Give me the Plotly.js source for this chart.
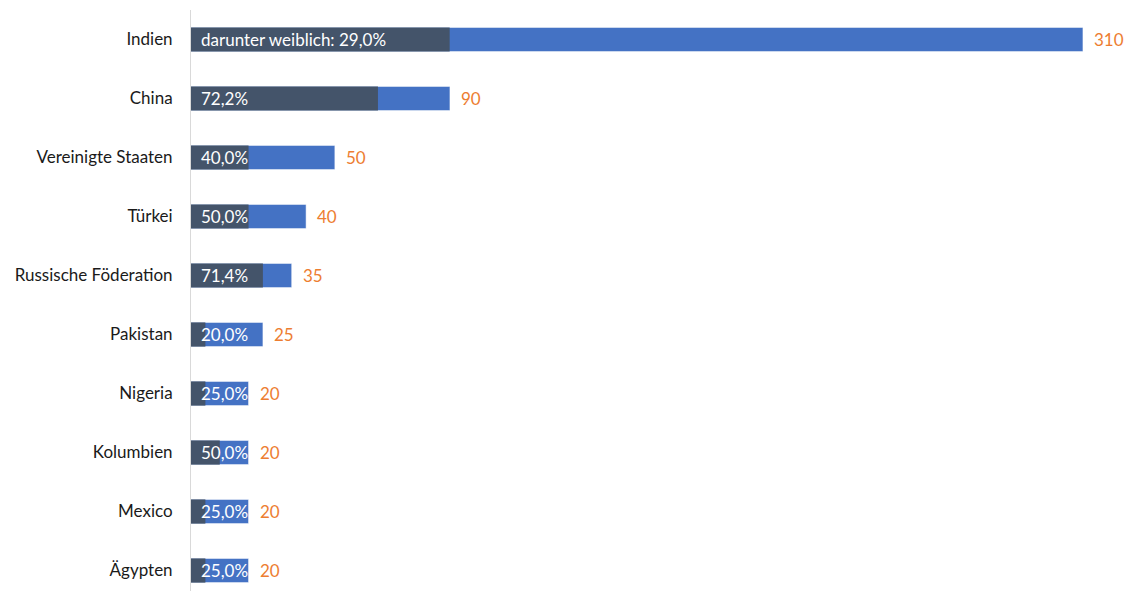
<!DOCTYPE html>
<html><head><meta charset="utf-8">
<script src="https://cdn.plot.ly/plotly-3.0.1.min.js"></script>
<style>html,body{margin:0;padding:0;background:#fff}#chart{width:1131px;height:591px}</style>
</head><body><div id="chart"></div>
<script>
const categories = ["Indien","China","Vereinigte Staaten","Türkei","Russische Föderation","Pakistan","Nigeria","Kolumbien","Mexico","Ägypten"];
const totals = [310, 90, 50, 40, 35, 25, 20, 20, 20, 20];
const femaleShare = [29.0, 72.2, 40.0, 50.0, 71.4, 20.0, 25.0, 50.0, 25.0, 25.0];

const female = totals.map((t,i)=> t*femaleShare[i]/100);
const fmt = v => v.toFixed(1).replace('.', ',') + '%';
const insideText = femaleShare.map((p,i)=> (i===0 ? 'darunter weiblich: ' : '') + fmt(p));
const FONT = 'Lato, "Open Sans", sans-serif';

const traces = [
  {type:'bar', orientation:'h', y:categories, x:totals, marker:{color:'#4472C4', line:{color:'#ffffff', width:0.5}}, width:0.41, hoverinfo:'skip'},
  {type:'bar', orientation:'h', y:categories, x:female, marker:{color:'#44546A'}, width:0.41, hoverinfo:'skip'}
];

const annotations = [];
categories.forEach((c,i)=>{
  annotations.push({x:0, y:c, xref:'x', yref:'y', text:insideText[i], showarrow:false, xanchor:'left', xshift:8, font:{family:FONT, size:17, color:'#ffffff'}});
  annotations.push({x:totals[i], y:c, xref:'x', yref:'y', text:String(totals[i]), showarrow:false, xanchor:'left', xshift:9, font:{family:FONT, size:17, color:'#ED7D31'}});
});

const layout = {
  width:1131, height:591,
  margin:{l:191, r:0, t:10, b:0},
  barmode:'overlay',
  showlegend:false,
  paper_bgcolor:'#ffffff', plot_bgcolor:'#ffffff',
  xaxis:{range:[0, 326.7], showgrid:false, zeroline:false, showticklabels:false, showline:false, fixedrange:true},
  yaxis:{type:'category', range:[9.347, -0.5], showgrid:false, zeroline:false, showline:true, linecolor:'#d9d9d9', linewidth:1,
         ticks:'', ticklabelstandoff:14, tickfont:{family:FONT, size:17, color:'#1a1a1a'}},
  annotations:annotations
};

Plotly.newPlot('chart', traces, layout, {displayModeBar:false, staticPlot:true});
</script></body></html>
